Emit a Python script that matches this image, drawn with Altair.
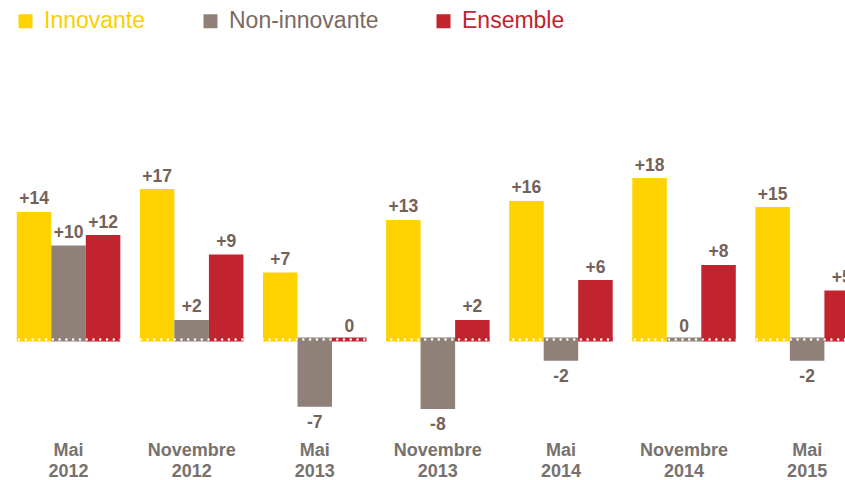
import altair as alt
import pandas as pd

periods = ["Mai 2012", "Novembre 2012", "Mai 2013", "Novembre 2013",
           "Mai 2014", "Novembre 2014", "Mai 2015"]
series = ["Innovante", "Non-innovante", "Ensemble"]
colors = ["#FFD200", "#8F8178", "#C1232F"]

innovante = [14.17, 16.72, 7.45, 13.28, 15.39, 17.94, 14.72]
non_innovante = [10.45, 2.17, -7.47, -7.72, -2.36, 0.0, -2.36]
ensemble = [11.6, 9.45, 0.0, 2.17, 6.61, 8.28, 5.45]

lab_innovante = ["+14", "+17", "+7", "+13", "+16", "+18", "+15"]
lab_non_innovante = ["+10", "+2", "-7", "-8", "-2", "0", "-2"]
lab_ensemble = ["+12", "+9", "0", "+2", "+6", "+8", "+5"]

rows = []
for s, vals, labs in zip(series,
                         [innovante, non_innovante, ensemble],
                         [lab_innovante, lab_non_innovante, lab_ensemble]):
    for p, v, l in zip(periods, vals, labs):
        rows.append({"period": p, "series": s, "value": v, "label": l})
df = pd.DataFrame(rows)

LABEL_FONT = "Liberation Sans"

x_enc = alt.X("period:N", sort=periods,
              scale=alt.Scale(range=[0, 861.7], paddingInner=0.159, paddingOuter=0.0796),
              axis=alt.Axis(title=None, domain=False, ticks=False, tickSize=0,
                            labelAngle=0, labelExpr="split(datum.label, ' ')",
                            labelFont="Liberation Sans", labelFontWeight="bold",
                            labelFontSize=18, labelColor="#77726E",
                            labelLineHeight=21, labelPadding=2.5,
                            labelBaseline="top", labelOverlap=False))
xo_enc = alt.XOffset("series:N", sort=series,
                     scale=alt.Scale(paddingInner=0, paddingOuter=0))
y_scale = alt.Scale(domain=[-11, 24], nice=False, zero=True)
color_enc = alt.Color(
    "series:N", sort=series,
    scale=alt.Scale(domain=series, range=colors),
    legend=alt.Legend(
        title=None, orient="none", direction="horizontal",
        legendX=7, legendY=-114, padding=0,
        symbolType="square", symbolSize=196, symbolStrokeWidth=0, symbolOpacity=1,
        labelFont="Liberation Sans", labelFontSize=23, labelOffset=7,
        labelLimit=400, columnPadding=53,
        labelColor=alt.ExprRef(
            "datum.value == 'Innovante' ? '#F9CF00' : "
            "(datum.value == 'Ensemble' ? '#C1232F' : '#7A6A62')"),
    ),
)

base = alt.Chart(df).encode(x=x_enc, xOffset=xo_enc)

bars = base.mark_bar(clip=True).encode(
    y=alt.Y("value:Q", scale=y_scale, axis=None),
    color=color_enc,
)

strips = base.mark_bar(clip=True).encode(
    y=alt.Y(datum=0.22, scale=y_scale, axis=None),
    y2=alt.Y2(datum=-0.22),
    color=color_enc,
)

zero_rule = alt.Chart(pd.DataFrame({"z": [0]})).mark_rule(
    color="white", strokeDash=[0.1, 6.67], strokeCap="round", strokeWidth=2.4, clip=True
).encode(y=alt.Y("z:Q", scale=y_scale, axis=None))

text_pos = base.transform_filter("datum.value >= 0").mark_text(
    clip=True, baseline="alphabetic", dy=-7.5, font=LABEL_FONT,
    fontWeight="bold", fontSize=17.5, color="#74625A"
).encode(y=alt.Y("value:Q", scale=y_scale, axis=None), text="label:N")

text_neg = base.transform_filter("datum.value < 0").mark_text(
    clip=True, baseline="top", dy=7.5, font=LABEL_FONT,
    fontWeight="bold", fontSize=17.5, color="#74625A"
).encode(y=alt.Y("value:Q", scale=y_scale, axis=None), text="label:N")

chart = alt.layer(bars, strips, zero_rule, text_pos, text_neg).properties(
    width=838, height=315,
    autosize=alt.AutoSizeParams(type="none"),
    padding={"left": 7, "top": 123.5, "right": 0, "bottom": 41.5},
    background="white",
).configure_view(stroke=None)

chart.save("out.html", embed_options={"renderer": "svg", "actions": False})
